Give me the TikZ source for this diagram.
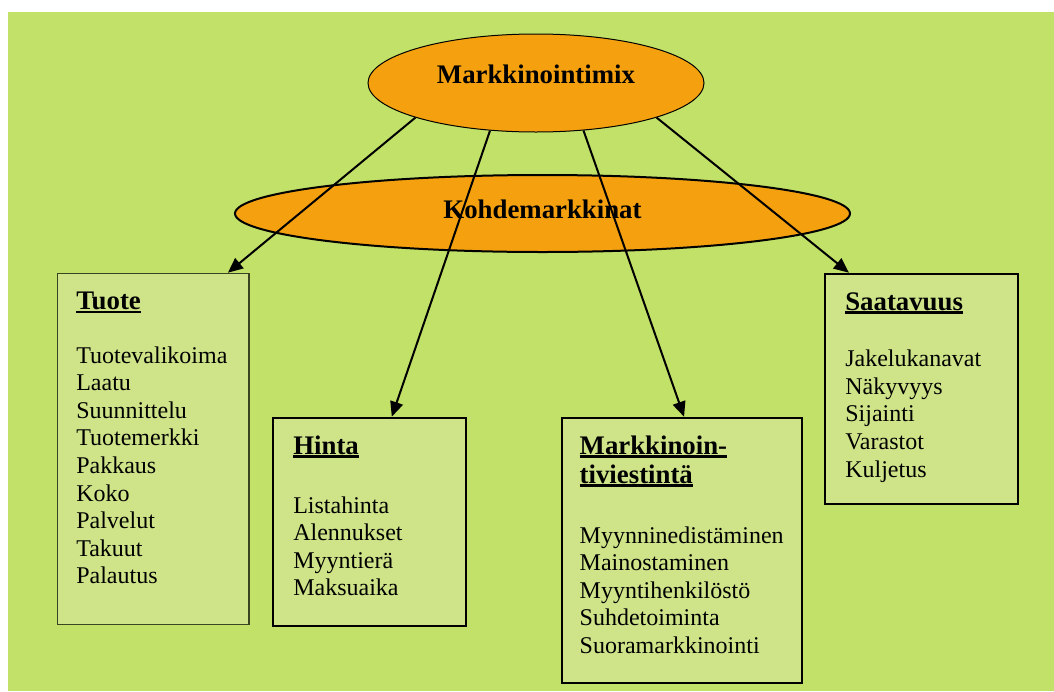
\documentclass[tikz,border=0pt]{standalone}
\usepackage{fontspec}
\setmainfont{Liberation Serif}
\usepackage{tikz}
\usetikzlibrary{shapes.geometric,arrows.meta}
\definecolor{bggreen}{RGB}{194,225,105}
\definecolor{boxgreen}{RGB}{207,228,137}
\definecolor{mixorange}{RGB}{245,161,15}
\newcommand{\boxtitle}[1]{\leavevmode{\fontsize{13.4}{14.5}\selectfont\bfseries\setbox0\hbox{#1}\rlap{\rule[-1.7pt]{\wd0}{1.2pt}}\box0}}
\tikzstyle{oval} = [ellipse,draw,fill=mixorange,font=\fontsize{13.4}{16}\selectfont\bfseries,inner sep=0pt]
\tikzstyle{mixoval} = [oval,line width=0.5pt,minimum width=168pt,minimum height=49pt,text height=9pt,text depth=9pt]
\tikzstyle{segoval} = [oval,line width=1pt,minimum width=307.5pt,minimum height=38.5pt,text height=9pt,text depth=4.5pt]
\tikzstyle{pbox} = [draw,line width=1pt,fill=boxgreen,anchor=north west,align=left,inner xsep=10pt,inner ysep=0pt,text height=18.2pt,font=\fontsize{12}{13.8}\selectfont]
\tikzstyle{arr} = [draw,line width=1pt,-{Triangle[length=7.5pt,width=6.5pt]}]

\begin{document}
\begin{tikzpicture}[x=0.5pt,y=-0.5pt]

    \useasboundingbox (0,0) rectangle (1054,691);
    \fill[bggreen] (8,12) rectangle (1054,691);

    \node[mixoval] (mix) at (536,83) {Markkinointimix};
    \node[segoval] (segment) at (542.5,213.5) {Kohdemarkkinat};

    \node[pbox,inner xsep=9.5pt,text width=76.8pt,text depth=157.4pt,draw=black!70!bggreen,line width=0.6pt] (tuote) at (56.7,272.7)
        {\boxtitle{Tuote}\\[12.9pt]
         Tuotevalikoima\\Laatu\\Suunnittelu\\Tuotemerkki\\Pakkaus\\Koko\\Palvelut\\Takuut\\Palautus};
    \node[pbox,text width=76.2pt,text depth=85.7pt] (hinta) at (272.3,416.7)
        {\boxtitle{Hinta}\\[15.7pt]
         Listahinta\\Alennukset\\Myyntierä\\Maksuaika};
    \node[pbox,inner xsep=9pt,text width=102pt,text depth=114.2pt] (viestinta) at (560.7,416.7)
        {\boxtitle{Markkinoin-}\\[0.7pt]\boxtitle{tiviestintä}\\[16.2pt]
         Myynninedistäminen\\Mainostaminen\\Myyntihenkilöstö\\Suhdetoiminta\\Suoramarkkinointi};
    \node[pbox,text width=76.2pt,text depth=97pt] (saatavuus) at (824.3,272.7)
        {\boxtitle{Saatavuus}\\[14.5pt]
         Jakelukanavat\\Näkyvyys\\Sijainti\\Varastot\\Kuljetus};

    \draw[arr] (mix.196) -- (tuote.67);
    \draw[arr] (mix.226) -- (hinta.78);
    \draw[arr] (mix.315) -- (viestinta.89);
    \draw[arr] (mix.344) -- (saatavuus.122);

\end{tikzpicture}
\end{document}
